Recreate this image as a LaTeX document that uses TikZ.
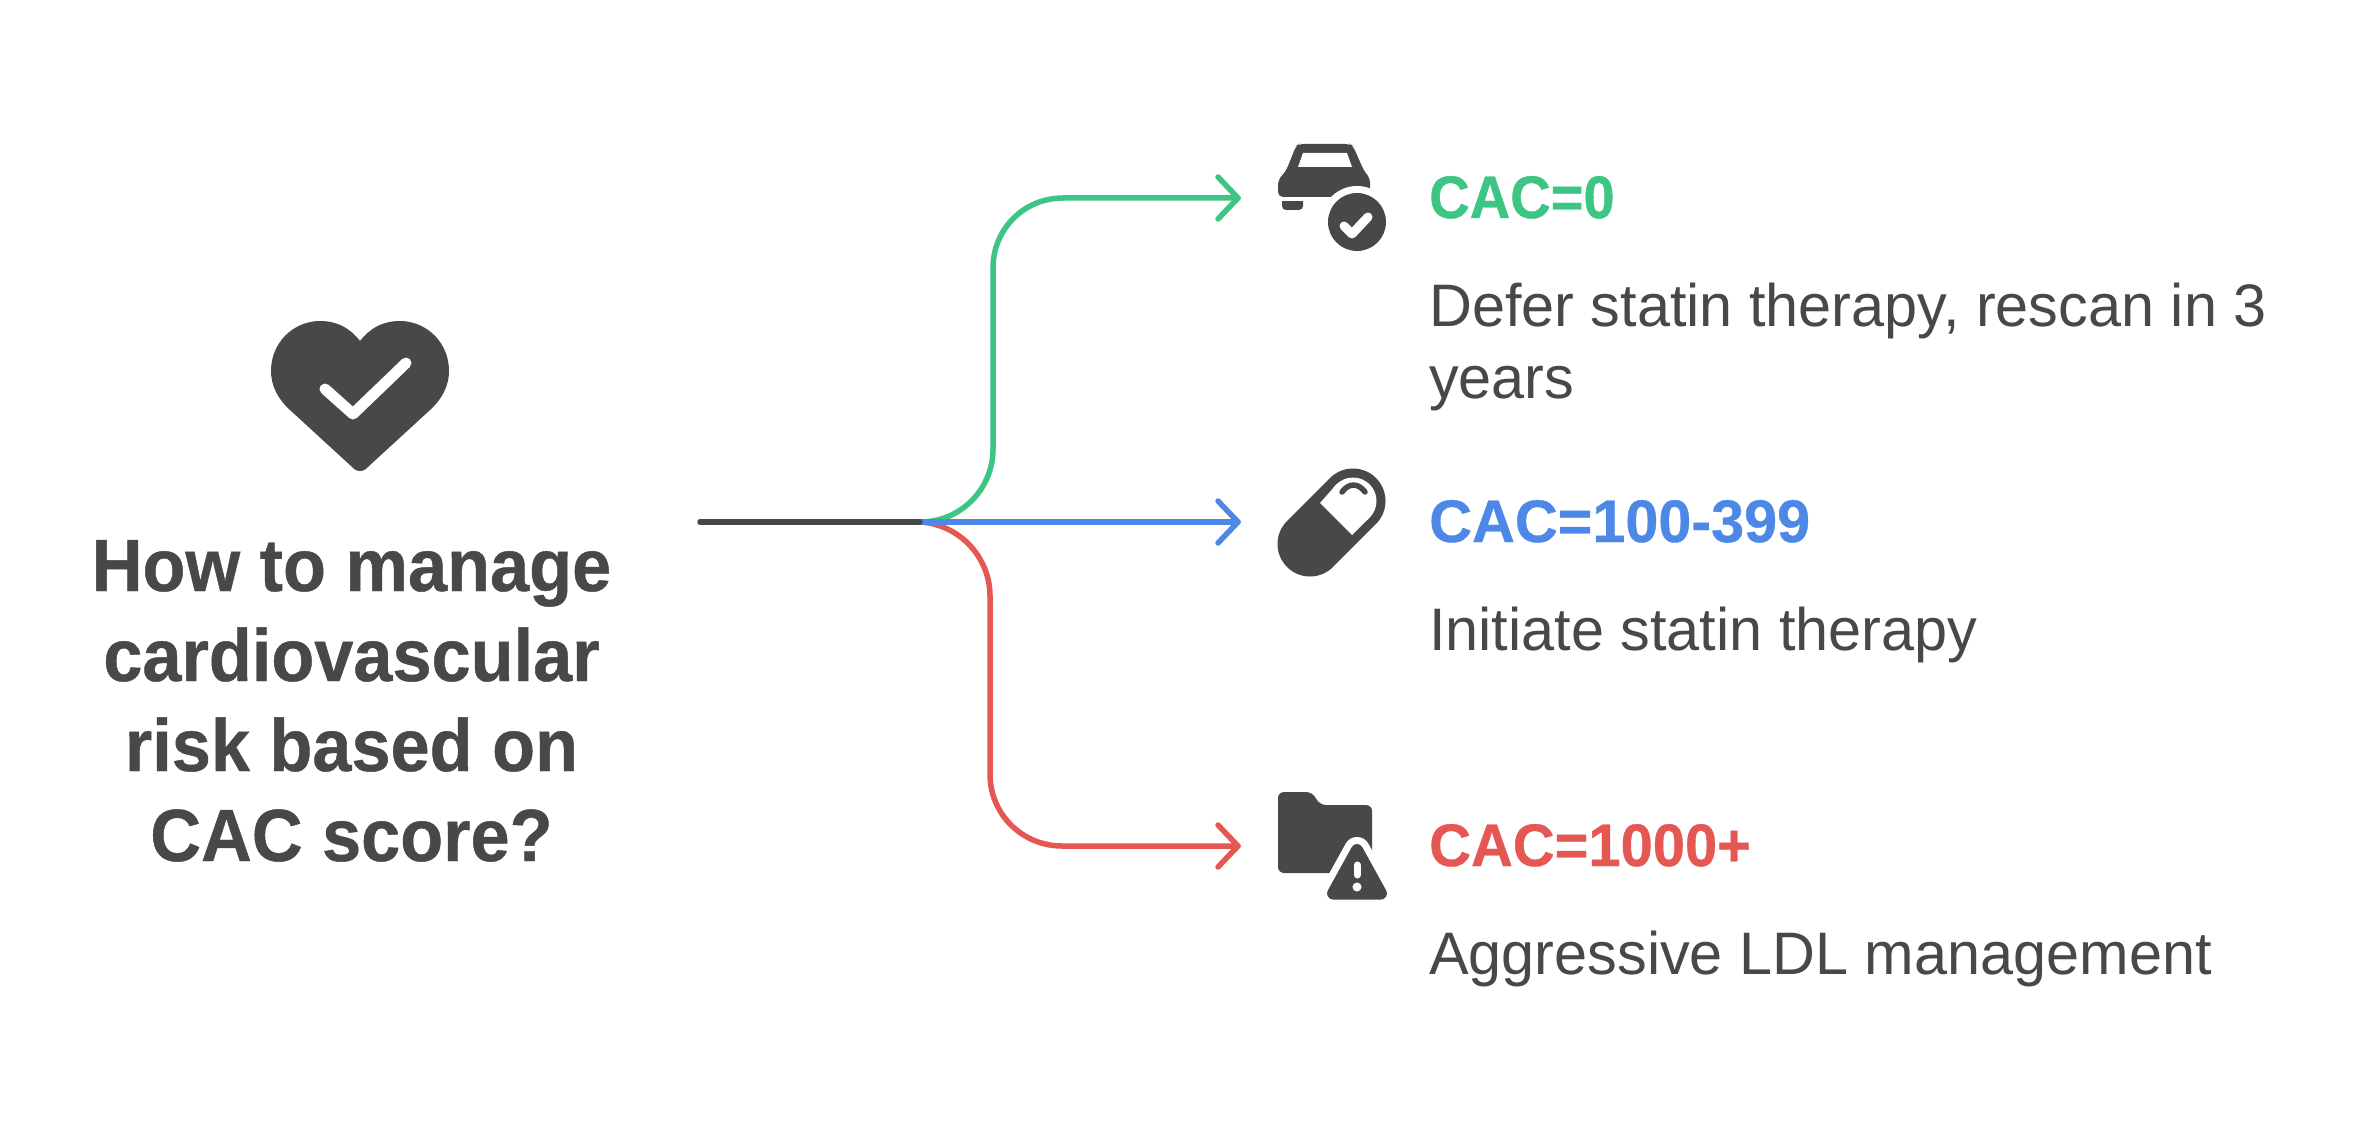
\documentclass[tikz,border=0pt]{standalone}
\usepackage{fontspec}
\setmainfont{Liberation Sans}
\newfontfamily\titleface[FakeStretch=0.95,FakeBold=0.6]{Liberation Sans Bold}
\newfontfamily\headzero[FakeStretch=0.935,FakeBold=0.6]{Liberation Sans Bold}
\newfontfamily\headmid[FakeStretch=0.989,FakeBold=0.6]{Liberation Sans Bold}
\newfontfamily\headhigh[FakeStretch=0.965,FakeBold=0.6]{Liberation Sans Bold}
\newfontfamily\bodyface[FakeStretch=0.99]{Liberation Sans}
\definecolor{ink}{HTML}{484848}
\definecolor{cgreen}{HTML}{3CC583}
\definecolor{cblue}{HTML}{4E88E7}
\definecolor{cred}{HTML}{E55753}
\tikzset{
  x=1pt,y=-1pt,
  conn/.style={line width=5.5pt,line cap=round,line join=round},
  title/.style={font=\fontsize{74}{90}\titleface,text=ink,align=center,inner sep=0pt,anchor=base},
  headtext/.style={anchor=base west,inner sep=0pt},
  bodytext/.style={font=\fontsize{60}{72}\bodyface,text=ink,anchor=base west,inner sep=0pt,align=left},
}
\begin{document}
\begin{tikzpicture}
\useasboundingbox (0,0) rectangle (2358,1134);
\fill[white] (0,0) rectangle (2358,1134);
\coordinate (start) at (700,522);
\coordinate (fork) at (920,522);
\coordinate (tg) at (1238,198);
\coordinate (tb) at (1238,522);
\coordinate (tr) at (1238,846);
% connectors
\draw[conn,cgreen] (fork) .. controls (961,522) and (993,489) .. (993,449) -- (993,268) .. controls (993,229) and (1024,198) .. (1063,198) -- (tg);
\draw[conn,cred] (fork) .. controls (958,524) and (990,556) .. (990,596) -- (990,774) .. controls (990,815) and (1023,846) .. (1062,846) -- (tr);
\draw[conn,cblue] (fork) -- (tb);
\draw[conn,ink] (start) -- (fork);
\draw[conn,cgreen] (1218,177) -- (tg) -- (1218,219);
\draw[conn,cblue] (1218,501) -- (tb) -- (1218,543);
\draw[conn,cred] (1218,825) -- (tr) -- (1218,867);
% heart
\fill[ink] (360,471) .. controls (356,471) and (354,469) .. (351,466)
 -- (290,410) .. controls (277,398) and (271,385) .. (271,371)
 .. controls (271,342) and (294,321) .. (320,321)
 .. controls (337,321) and (350,328) .. (360,341)
 .. controls (370,328) and (383,321) .. (400,321)
 .. controls (426,321) and (449,342) .. (449,371)
 .. controls (449,385) and (443,398) .. (430,410)
 -- (369,466) .. controls (366,469) and (364,471) .. (360,471) -- cycle;
\draw[white,line width=11pt,line cap=round,line join=round] (325,389) -- (353,414) -- (406,363);
% car
\fill[ink,rounded corners=5pt] (1278,197) -- (1278,180) -- (1286,171) -- (1296,146) -- (1299,144) -- (1350,144) -- (1353,146) -- (1364,171) -- (1370,178) -- (1370,197) -- cycle;
\fill[white] (1303,153) -- (1347,153) -- (1352,167) -- (1298,167) -- cycle;
\fill[ink,rounded corners=4pt] (1282,197) -- (1303,197) -- (1303,210) -- (1282,210) -- cycle;
\fill[white] (1282,197.500) rectangle (1303,201);
\fill[white] (1357,222) circle (36);
\fill[ink] (1357,222) circle (29);
\draw[white,line width=9pt,line cap=round,line join=round] (1344,226) -- (1352,234) -- (1368,217);
% pill
\draw[ink,line width=65pt,line cap=round] (1310,544) -- (1353,501);
\fill[white] (1320,503) -- (1352,535) -- (1369.600,517.600) -- (1336.400,484.400) -- cycle;
\fill[white] (1353,501) circle (23.500);
\draw[ink,line width=5.500pt,line cap=round] (1342,492) .. controls (1349,482.700) and (1358,482.700) .. (1365,492);
% folder
\fill[ink,rounded corners=6pt] (1278,792) -- (1312,792) -- (1320,805) -- (1372,805) -- (1372,873) -- (1278,873) -- cycle;
\draw[white,fill=white,line width=26pt,line join=round] (1357,850) -- (1381,893.500) -- (1333,893.500) -- cycle;
\draw[ink,fill=ink,line width=12pt,line join=round] (1357,850) -- (1381,893.500) -- (1333,893.500) -- cycle;
\draw[white,line width=7pt,line cap=round] (1357,865) -- (1357,875);
\fill[white] (1357,887) circle (4.500);
% text
\node[title] (ttl) at (351.500,861) {How to manage\\cardiovascular\\risk based on\\CAC score?};
\node[headtext,font=\fontsize{60}{72}\headzero,text=cgreen] (h1) at (1429,218) {CAC=0};
\node[headtext,font=\fontsize{60}{72}\headmid,text=cblue] (h2) at (1429,542) {CAC=100-399};
\node[headtext,font=\fontsize{60}{72}\headhigh,text=cred] (h3) at (1429,866) {CAC=1000+};
\node[bodytext] (b1) at (1429,398) {Defer statin therapy, rescan in 3\\years};
\node[bodytext] (b2) at (1429,650) {Initiate statin therapy};
\node[bodytext] (b3) at (1429,974) {Aggressive LDL management};
\end{tikzpicture}
\end{document}
